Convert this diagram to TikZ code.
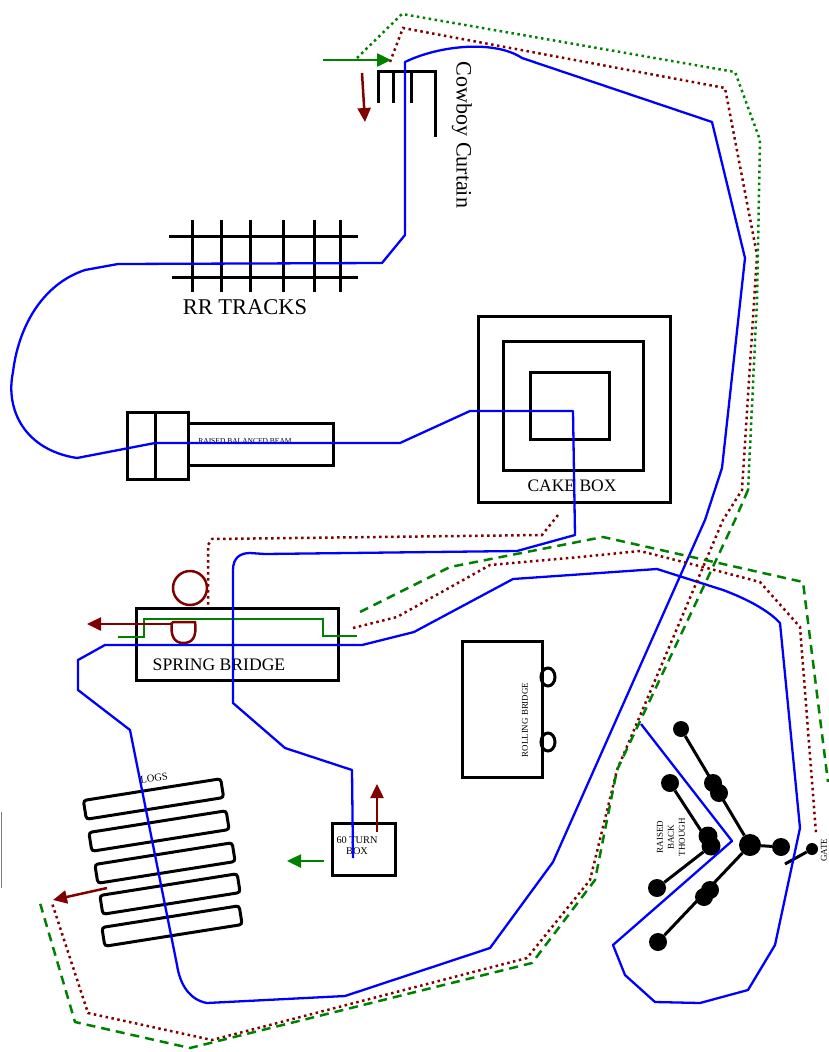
\documentclass[tikz,border=0pt]{standalone}
\usepackage{fontspec}
\setmainfont{Liberation Serif}
\usetikzlibrary{arrows.meta}
\definecolor{trailred}{HTML}{800000}
\definecolor{trailgreen}{HTML}{008000}
\tikzset{
    prop/.style={draw=black, line width=3pt, rectangle, inner sep=0pt},
    log/.style={draw=black, line width=3pt, rectangle, rounded corners=3pt,
        minimum width=139pt, minimum height=19pt, inner sep=0pt},
    ball/.style={circle, fill=black, inner sep=0pt},
    bluerun/.style={draw=blue, line width=2.3pt, line join=round},
    redrun/.style={draw=trailred, line width=2.5pt, dash pattern=on 2.5pt off 3.5pt},
    greendots/.style={draw=trailgreen, line width=2.5pt, dash pattern=on 2.5pt off 3.5pt},
    greenrun/.style={draw=trailgreen, line width=2.5pt, dash pattern=on 9pt off 6pt},
    redarrow/.style={draw=trailred, line width=2.5pt, -{Triangle[length=14pt, width=13pt]}},
    greenarrow/.style={draw=trailgreen, line width=2.5pt, -{Triangle[length=14pt, width=13pt]}},
}
\begin{document}
\begin{tikzpicture}[x=1pt, y=-1pt]
    \useasboundingbox (0,0) rectangle (829,1052);

    % props
    \node[prop, minimum width=192pt, minimum height=186pt] (cakeout) at (574,409) {};
    \node[prop, minimum width=140pt, minimum height=129pt] (cakemid) at (573,405.5) {};
    \node[prop, minimum width=79pt, minimum height=67pt] (cakein) at (569.5,405.5) {};
    \node[font=\fontsize{17.5}{20}\selectfont] (caketext) at (572,486) {CAKE BOX};

    \node[prop, minimum width=61pt, minimum height=67pt] (beamend) at (157.5,445.5) {};
    \node[prop, minimum width=145pt, minimum height=42pt] (beam) at (260.5,444) {};
    \draw[line width=3pt] (beamend.north) ++(-2.5,0) coordinate (bd1) -- (bd1 |- beamend.south);
    \node[font=\fontsize{7.5}{8}\selectfont] (beamtext) at (245,441) {RAISED BALANCED BEAM};

    \node[prop, minimum width=202pt, minimum height=72pt] (spring) at (237,644) {};
    \node[font=\fontsize{17.6}{20}\selectfont] (springtext) at (219,665) {SPRING BRIDGE};

    \node[prop, minimum width=80pt, minimum height=136pt] (rolling) at (502,709) {};
    \draw[line width=3pt] (548,677) ellipse (7 and 9);
    \draw[line width=3pt] (548,742) ellipse (7 and 9);
    \node[font=\fontsize{8.9}{10}\selectfont, rotate=90] (rollingtext) at (525,720) {ROLLING BRIDGE};

    \node[prop, minimum width=63pt, minimum height=52pt] (turnbox) at (363.5,849) {};
    \node[font=\fontsize{10.3}{11}\selectfont, align=center] (turntext) at (357,846) {60 TURN\\BOX};

    % rr tracks
    \draw[line width=3pt] (169,236) -- (358,236);
    \draw[line width=3pt] (172,277) -- (358,277);
    \foreach \tx in {192,221,250,283,314,340}
        \draw[line width=3pt] (\tx,220) -- (\tx,292);
    \node[font=\fontsize{22.5}{24}\selectfont] (rrtext) at (245,307) {RR TRACKS};

    % cowboy curtain
    \draw[line width=3pt] (378,103) -- (378,71) -- (435,71) -- (435,137);
    \draw[line width=3pt] (393,71) -- (393,103);
    \draw[line width=3pt] (411,71) -- (411,103);
    \node[font=\fontsize{22}{24}\selectfont, rotate=-90] (curtaintext) at (462,135) {Cowboy Curtain};

    % logs
    \node[log, rotate=9] (log1) at (153.5,799) {};
    \node[log, rotate=9] (log2) at (159,831) {};
    \node[log, rotate=9] (log3) at (165,863) {};
    \node[log, rotate=9] (log4) at (170,894) {};
    \node[log, rotate=9] (log5) at (172,926) {};
    \node[font=\fontsize{10.5}{12}\selectfont, rotate=8] (logtext) at (154,778) {LOGS};

    % raised back though
    \node[ball, minimum size=22pt] (hub) at (750,845) {};
    \node[ball, minimum size=16pt] (tip1) at (681,729) {};
    \node[ball, minimum size=18pt] (knot1a) at (713,783) {};
    \node[ball, minimum size=18pt] (knot1b) at (719,793) {};
    \node[ball, minimum size=18pt] (tip2) at (781,847) {};
    \node[ball, minimum size=18pt] (knot3a) at (704,897) {};
    \node[ball, minimum size=18pt] (knot3b) at (710,890) {};
    \node[ball, minimum size=18pt] (tip3) at (658,942) {};
    \node[ball, minimum size=18pt] (tip4) at (670,783) {};
    \node[ball, minimum size=19pt] (knot4a) at (708,836) {};
    \node[ball, minimum size=19pt] (knot4b) at (711,846) {};
    \node[ball, minimum size=18pt] (tip5) at (657,888) {};
    \draw[line width=3pt] (tip1) -- (hub) -- (tip2);
    \draw[line width=3pt] (hub) -- (tip3);
    \draw[line width=3pt] (tip4) -- (knot4b) -- (tip5);
    \node[font=\fontsize{9}{11}\selectfont, align=center, rotate=90] (backtext) at (671,837) {RAISED\\BACK\\THOUGH};
    \node[ball, minimum size=12pt] (gateball) at (812,849) {};
    \coordinate (gateend) at (785,864);
    \draw[line width=3pt] (gateend) -- (gateball);
    \node[font=\fontsize{9}{10}\selectfont, rotate=90] (gatetext) at (824,850) {GATE};

    % spring bridge extras
    \draw[trailred, line width=2.5pt] (190,588) circle (17);
    \draw[trailred, line width=2.5pt] (172,622) -- (195,622) .. controls (197,638) and (192,643) .. (183,643) .. controls (174,643) and (170,635) .. (172,622);
    \draw[trailgreen, line width=2.5pt] (118,637) -- (144,637) -- (144,619) -- (323,619) -- (323,636) -- (357,636);

    % blue course
    \draw[bluerun] (353,858) -- (352,770) -- (285,748) -- (233,703) -- (233,570)
        .. controls (233,558) and (240,553) .. (250,553) -- (265,554) -- (517,551) -- (575,535)
        -- (573,411) -- (470,411) -- (400,443) -- (155,443) -- (77,458)
        .. controls (25,450) and (5,410) .. (13,372) .. controls (18,330) and (40,285) .. (85,270)
        -- (118,264) -- (382,263) -- (405,235) -- (405,62)
        .. controls (440,45) and (495,40) .. (522,58) -- (712,122) -- (745,258) -- (722,468)
        -- (705,520) -- (553,862) -- (490,948) -- (345,996) -- (207,1003)
        .. controls (190,1000) and (180,985) .. (177,965) -- (130,730) -- (78,690) -- (78,660)
        -- (105,645) -- (362,645) -- (414,632) -- (513,579) -- (657,569) -- (723,590)
        .. controls (750,600) and (770,612) .. (780,623) -- (800,828) -- (775,945) -- (748,990)
        -- (700,1003) -- (655,1002) -- (625,975) -- (613,945) -- (732,841) -- (641,724);

    % red course
    \draw[redrun] (558,515) -- (542,535) -- (212,539) -- (208,545) -- (208,607);
    \draw[redrun] (353,628) -- (397,617) -- (490,565) -- (580,557) -- (640,551) -- (703,567)
        -- (760,582) -- (800,627) -- (816,833);
    \draw[redrun] (390,62) -- (403,28) -- (725,88) -- (757,255) -- (742,490) -- (723,520)
        -- (617,770) -- (590,880) -- (527,958) -- (212,1040) -- (88,1013) -- (52,903);

    % green course
    \draw[greendots] (357,58) -- (402,14) -- (735,72) -- (760,140) -- (757,300) -- (748,490);
    \draw[greenrun] (748,490) -- (735,520) -- (617,770) -- (595,880) -- (532,963) -- (190,1048)
        -- (75,1022) -- (40,903);
    \draw[greenrun] (360,612) -- (450,567) -- (603,537) -- (803,582) -- (828,782);

    % arrows
    \coordinate (ga1) at (323,60);  \coordinate (ga2) at (391,60);
    \coordinate (ra1) at (362,73);  \coordinate (ra2) at (365,122);
    \coordinate (ra3) at (172,624); \coordinate (ra4) at (87,624);
    \coordinate (ra5) at (377,832); \coordinate (ra6) at (377,784);
    \coordinate (ga3) at (324,861); \coordinate (ga4) at (287,861);
    \coordinate (ra7) at (107,888); \coordinate (ra8) at (53,900);
    \draw[greenarrow] (ga1) -- (ga2);
    \draw[redarrow] (ra1) -- (ra2);
    \draw[redarrow] (ra3) -- (ra4);
    \draw[redarrow] (ra5) -- (ra6);
    \draw[greenarrow] (ga3) -- (ga4);
    \draw[redarrow] (ra7) -- (ra8);

    % edge mark
    \draw[gray, line width=1pt] (1,812) -- (1,888);
\end{tikzpicture}
\end{document}
